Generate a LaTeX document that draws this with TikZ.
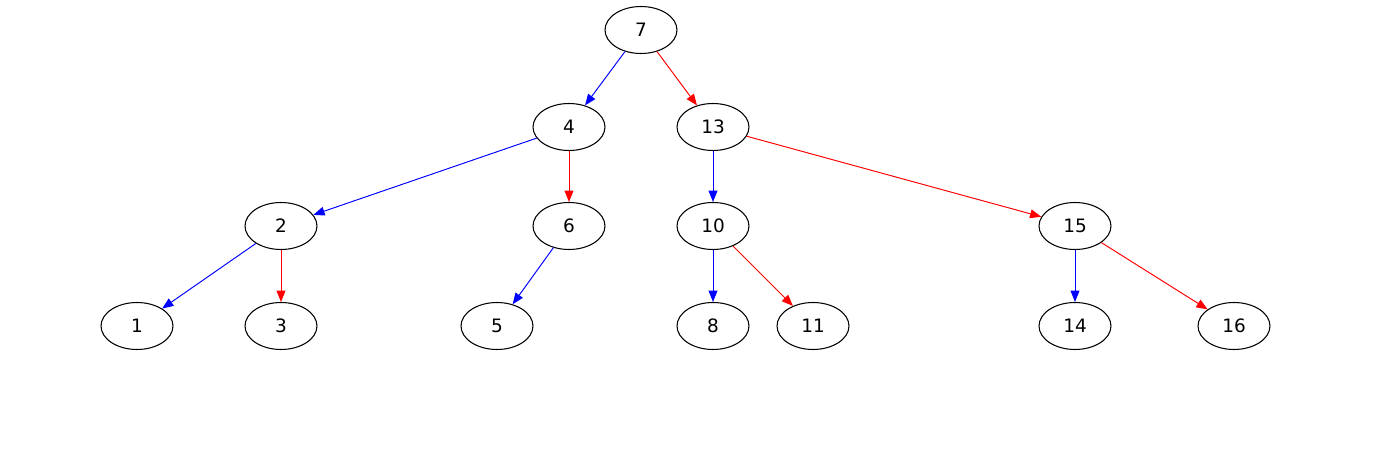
\documentclass[tikz,border=0pt]{standalone}
\usepackage{fontspec}
\setmainfont{DejaVu Sans}
\usetikzlibrary{shapes.geometric,arrows.meta}
\tikzset{
  vertex/.style={draw,ellipse,line width=0.6pt,minimum width=1.44cm,minimum height=0.94cm,inner sep=0pt,font=\fontsize{10.5}{12}\selectfont},
  leftedge/.style={draw=blue,line width=0.55pt,-{Triangle[length=6.4pt,width=5pt]},blue},
  rightedge/.style={draw=red,line width=0.55pt,-{Triangle[length=6.4pt,width=5pt]},red}
}
\begin{document}
\begin{tikzpicture}[x=0.02cm,y=-0.02cm]
      \useasboundingbox (0,0) rectangle (1387,456);
      \draw[every node/.style={vertex}]
        (641,30) node (7){7}
        (569,127) node (4){4}
        (713,127) node (13){13}
        (281,226) node (2){2}
        (569,226) node (6){6}
        (713,226) node (10){10}
        (1075,226) node (15){15}
        (137,326) node (1){1}
        (281,326) node (3){3}
        (497,326) node (5){5}
        (713,326) node (8){8}
        (813,326) node (11){11}
        (1075,326) node (14){14}
        (1234,326) node (16){16};
      \begin{scope}[leftedge]
        \draw (7) to (4);
        \draw (4) to (2);
        \draw (13) to (10);
        \draw (2) to (1);
        \draw (6) to (5);
        \draw (10) to (8);
        \draw (15) to (14);
      \end{scope}
      \begin{scope}[rightedge]
        \draw (7) to (13);
        \draw (4) to (6);
        \draw (13) to (15);
        \draw (2) to (3);
        \draw (10) to (11);
        \draw (15) to (16);
      \end{scope}
    \end{tikzpicture}
\end{document}
